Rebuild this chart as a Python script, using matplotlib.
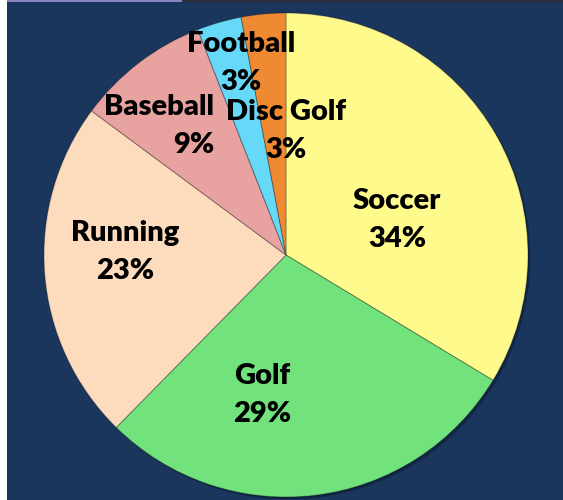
import matplotlib
matplotlib.use("Agg")
import matplotlib.pyplot as plt
from matplotlib.patches import Rectangle

categories = ["Soccer", "Golf", "Running", "Baseball", "Football", "Disc Golf"]
percents = [34, 29, 23, 9, 3, 3]
colors = ["#fffa8c", "#72e27c", "#fddcbd", "#e8a2a0", "#66d8f8", "#f08a32"]

# label anchor positions (in pie-radius units, relative to centre) and alignment
label_pos = [(0.459, 0.145), (-0.099, -0.579), (-0.665, 0.012),
             (-0.298, 0.533), (-0.186, 0.793), (0.0, 0.512)]
label_ha = ["center", "center", "center", "right", "center", "center"]

W, H = 563, 500
cx, cy, R = 286, 255, 242

fig = plt.figure(figsize=(W / 100, H / 100), dpi=100)
fig.patch.set_facecolor("white")

bg = fig.add_axes([0, 0, 1, 1], zorder=0)
bg.set_xlim(0, W)
bg.set_ylim(H, 0)
bg.axis("off")
bg.add_patch(Rectangle((7, 2), W - 7, H - 2, facecolor="#1b365d", edgecolor="none"))
bg.add_patch(Rectangle((7, 0), 175, 2, facecolor="#8a84c4", edgecolor="none"))
bg.add_patch(Rectangle((182, 0), W - 182, 2, facecolor="#2e2e3a", edgecolor="none"))

ax = fig.add_axes([0, 0, 1, 1], zorder=1)
ax.set_facecolor("none")
ax.axis("off")

# soft shadow
ax.pie(percents, radius=1.0, center=(0.01, -0.01), startangle=90, counterclock=False,
       colors=["#0b1c33"] * len(percents), wedgeprops=dict(linewidth=0, alpha=0.6))
wedges, _ = ax.pie(percents, radius=1.0, startangle=90, counterclock=False,
                   colors=colors,
                   wedgeprops=dict(edgecolor=(0, 0, 0, 0.25), linewidth=0.8))
ax.set_xlim(-cx / R, (W - cx) / R)
ax.set_ylim(-(H - cy) / R, cy / R)
ax.set_aspect("auto")

for name, p, (x, y), ha in zip(categories, percents, label_pos, label_ha):
    ax.text(x, y, f"{name}\n{p}%", ha=ha, va="center", multialignment=ha,
            fontsize=21, fontweight="heavy", family="Lato", color="black",
            linespacing=1.55)

fig.savefig("out.png", dpi=100, facecolor=fig.get_facecolor())
